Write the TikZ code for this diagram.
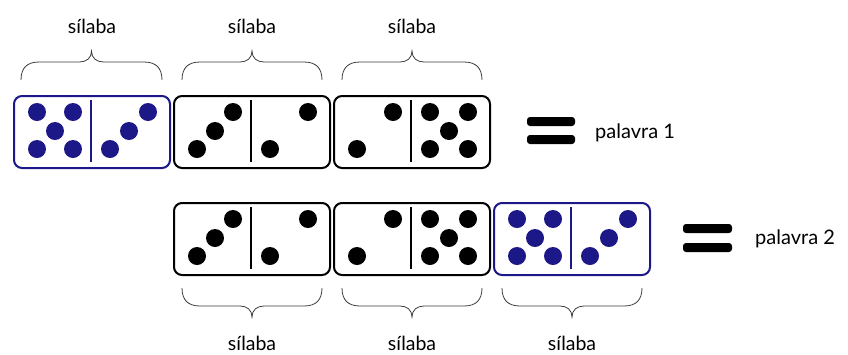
\documentclass[tikz,border=0pt]{standalone}
\usepackage{fontspec}
\setmainfont{Lato}
\usetikzlibrary{calc}
\definecolor{pipblue}{RGB}{28,24,135}
\definecolor{bracegray}{RGB}{60,60,60}

\tikzset{
  domino/.style={draw=#1, line width=2pt, rounded corners=8pt,
    minimum width=156pt, minimum height=72pt, inner sep=0pt, anchor=north west},
  domino/.default=black,
  label/.style={font=\fontsize{19.5}{19.5}\selectfont, inner sep=0pt, anchor=base},
  wordlabel/.style={font=\fontsize{20}{20}\selectfont, inner sep=0pt, anchor=base west},
  bracestroke/.style={draw=bracegray, line width=0.8pt},
  eqbar/.style={fill=black, rounded corners=3pt},
}

% divider line of a domino
\newcommand\domdivide[2]{\draw[#1, line width=1.6pt]
  ($(#2.north west)+(78,5)$) -- ($(#2.north west)+(78,67)$);}
% five pips in one half; #3,#4,#5 are the column offsets
\newcommand\pipsfive[5]{\foreach \a/\b in {#3/17,#5/17,#4/36,#3/54,#5/54}
  \fill[#1] ($(#2.north west)+(\a,\b)$) circle[radius=9pt];}
\newcommand\pipsthree[5]{\foreach \a/\b in {#3/54,#4/36,#5/17}
  \fill[#1] ($(#2.north west)+(\a,\b)$) circle[radius=9pt];}
\newcommand\pipstwo[5]{\foreach \a/\b in {#3/54,#5/17}
  \fill[#1] ($(#2.north west)+(\a,\b)$) circle[radius=9pt];}
% curly brace: left x, right x, end y, direction (-1 up, +1 down)
\newcommand\curly[4]{\draw[bracestroke]
  (#1,#3) .. controls (#1,{#3+#4*12}) and ({#1+6},{#3+#4*18}) .. ({#1+18},{#3+#4*18})
  -- ({(#1+#2)/2-12},{#3+#4*18})
  .. controls ({(#1+#2)/2-5},{#3+#4*18}) and ({(#1+#2)/2},{#3+#4*22}) .. ({(#1+#2)/2},{#3+#4*29})
  .. controls ({(#1+#2)/2},{#3+#4*22}) and ({(#1+#2)/2+5},{#3+#4*18}) .. ({(#1+#2)/2+12},{#3+#4*18})
  -- ({#2-18},{#3+#4*18})
  .. controls ({#2-6},{#3+#4*18}) and (#2,{#3+#4*12}) .. (#2,#3);}

\begin{document}
\begin{tikzpicture}[x=1pt, y=-1pt]
\useasboundingbox (0,0) rectangle (848,354);

% ---- first word ----
\node[domino=pipblue] (a1) at (13,95) {};
\node[domino] (a2) at (173,95) {};
\node[domino] (a3) at (333,95) {};
\domdivide{pipblue}{a1}
\domdivide{black}{a2}
\domdivide{black}{a3}
\pipsfive{pipblue}{a1}{24}{42}{60}
\pipsthree{pipblue}{a1}{97}{116}{135}
\pipsthree{black}{a2}{24}{42}{60}
\pipstwo{black}{a2}{97}{116}{135}
\pipstwo{black}{a3}{24}{42}{60}
\pipsfive{black}{a3}{97}{116}{135}

\curly{21}{162}{80}{-1}
\curly{182}{322}{80}{-1}
\curly{342}{482}{80}{-1}
\node[label] (s1) at (92,33) {sílaba};
\node[label] (s2) at (252,33) {sílaba};
\node[label] (s3) at (412,33) {sílaba};

\fill[eqbar] (527,117) rectangle (575,126);
\fill[eqbar] (527,135) rectangle (575,144);
\node[wordlabel] (w1) at (595,138) {palavra 1};

% ---- second word ----
\node[domino] (b1) at (173,202) {};
\node[domino] (b2) at (333,202) {};
\node[domino=pipblue] (b3) at (493,202) {};
\domdivide{black}{b1}
\domdivide{black}{b2}
\domdivide{pipblue}{b3}
\pipsthree{black}{b1}{24}{42}{60}
\pipstwo{black}{b1}{97}{116}{135}
\pipstwo{black}{b2}{24}{42}{60}
\pipsfive{black}{b2}{97}{116}{135}
\pipsfive{pipblue}{b3}{24}{42}{60}
\pipsthree{pipblue}{b3}{97}{116}{135}

\curly{182}{322}{288}{1}
\curly{342}{482}{288}{1}
\curly{502}{642}{288}{1}
\node[label] (t1) at (252,350) {sílaba};
\node[label] (t2) at (412,350) {sílaba};
\node[label] (t3) at (572,350) {sílaba};

\fill[eqbar] (683,224) rectangle (732,233);
\fill[eqbar] (683,243) rectangle (732,252);
\node[wordlabel] (w2) at (755,244) {palavra 2};
\end{tikzpicture}
\end{document}
